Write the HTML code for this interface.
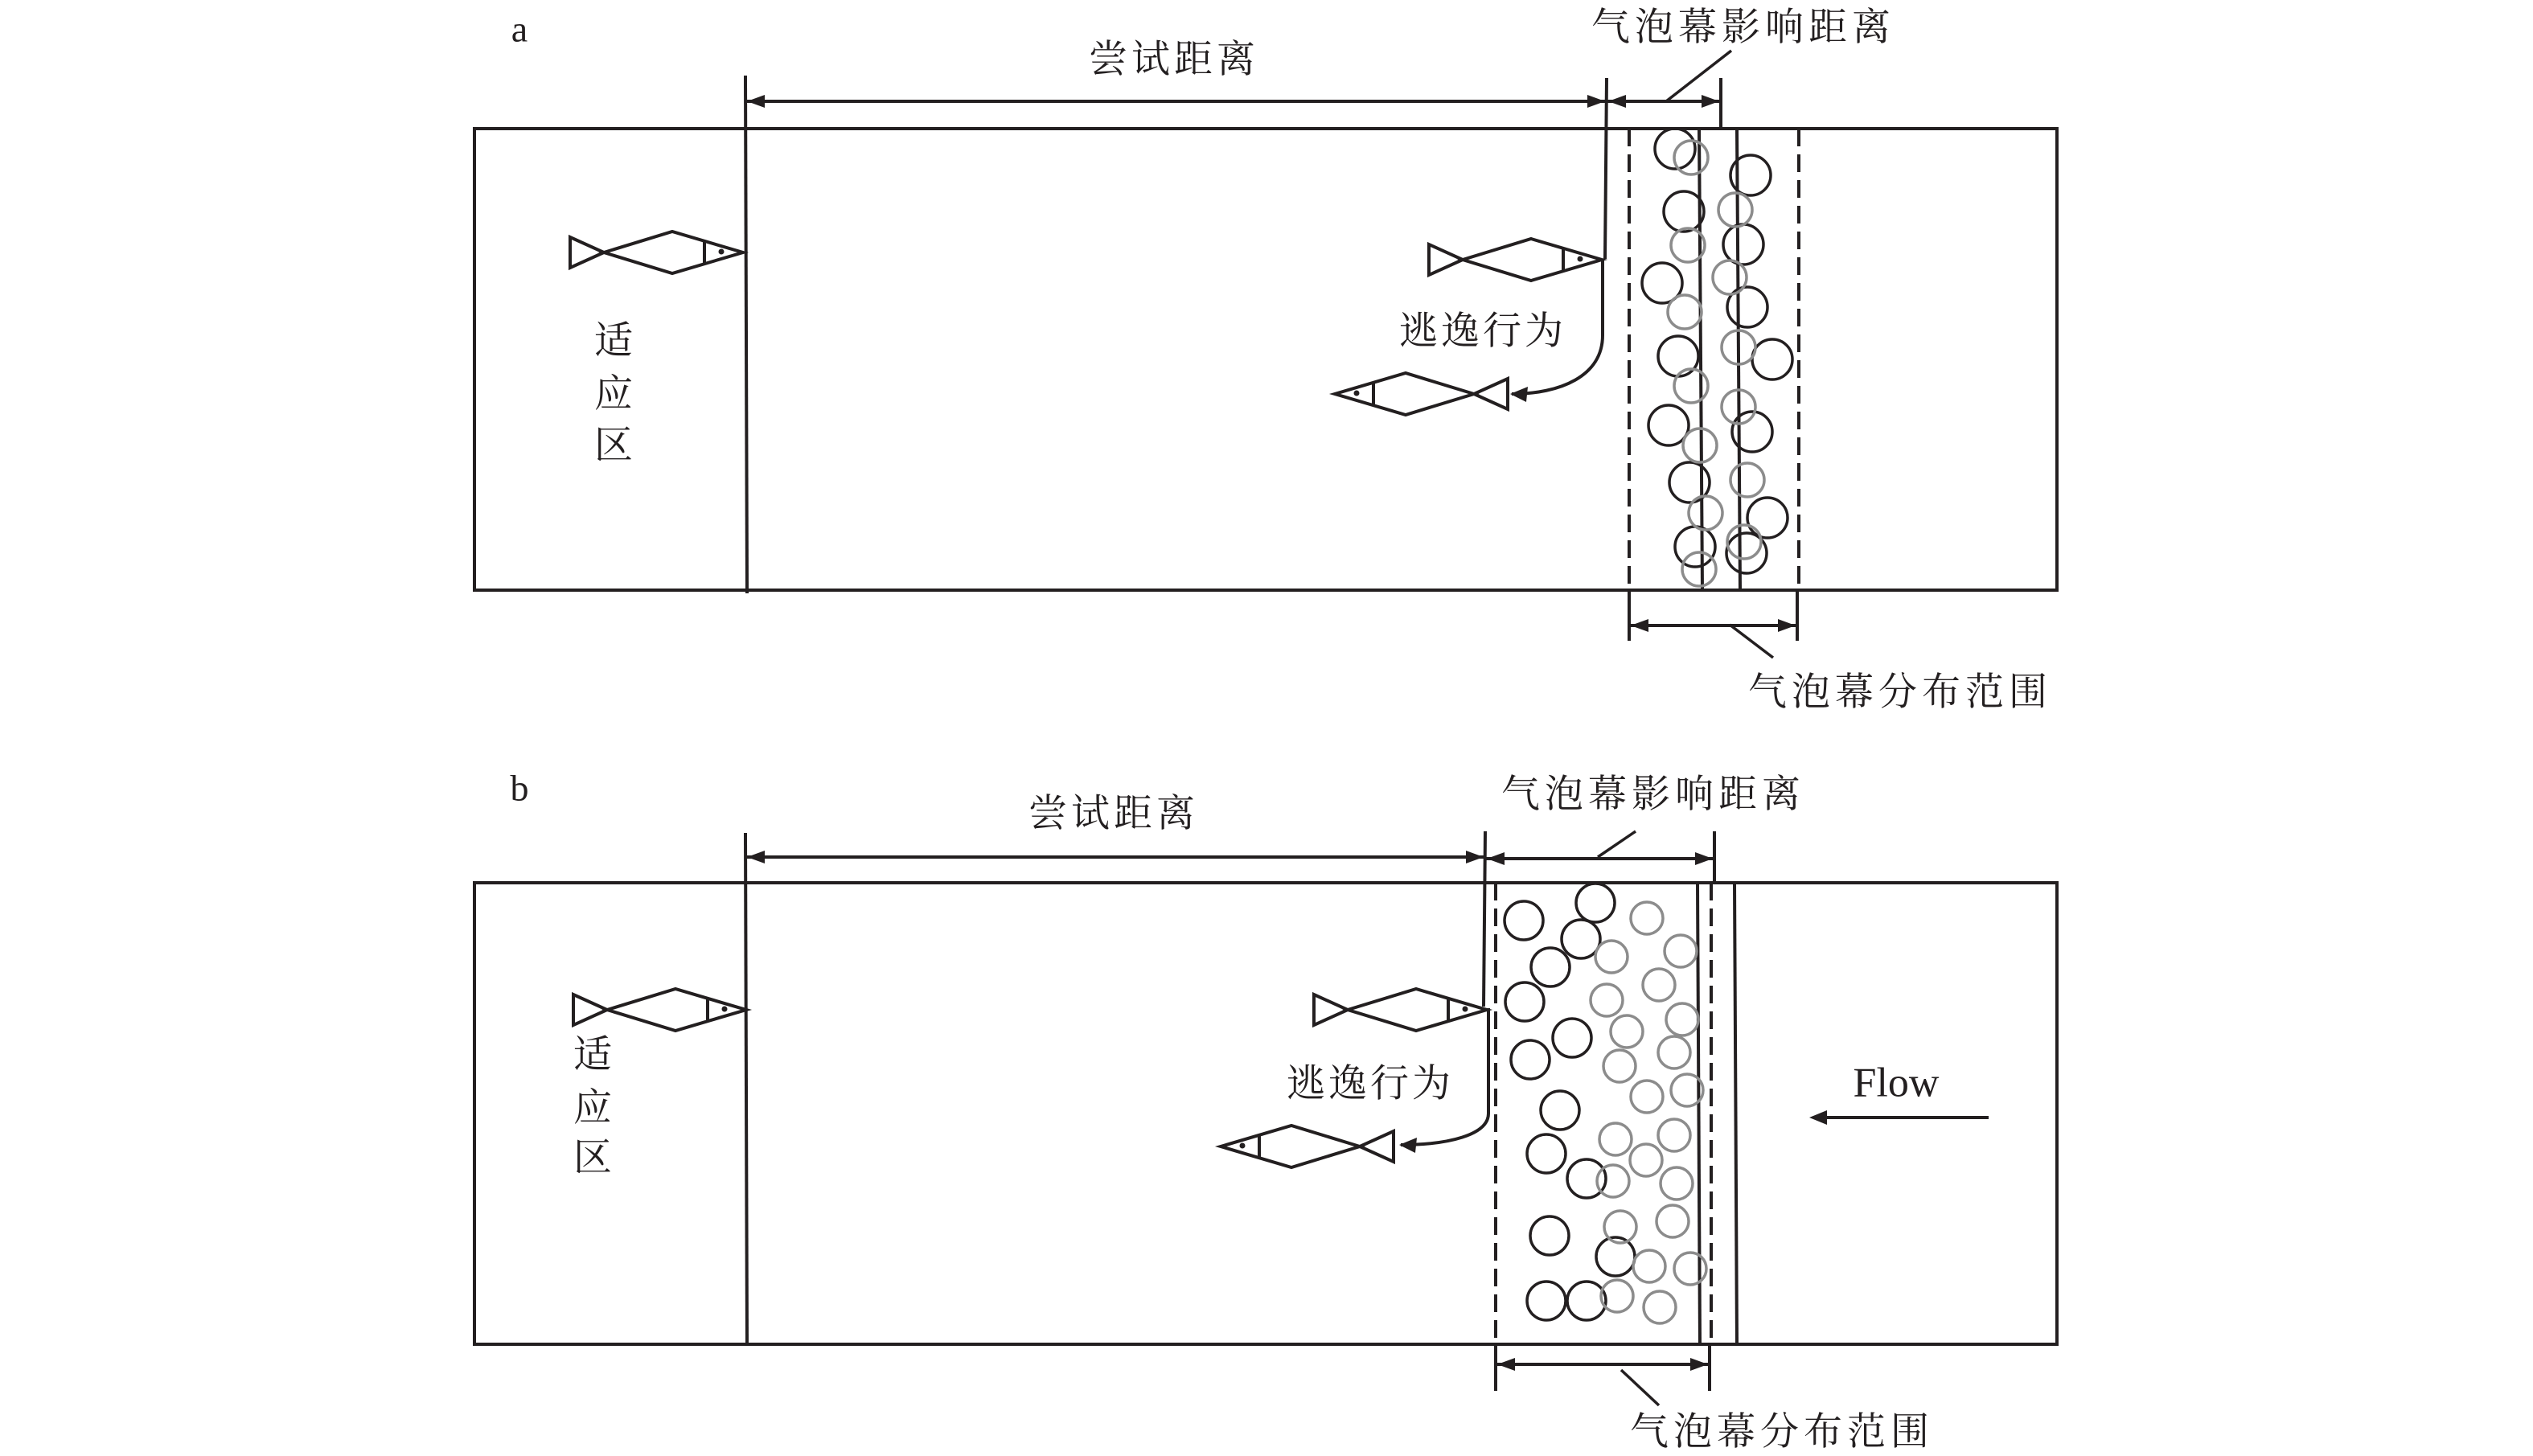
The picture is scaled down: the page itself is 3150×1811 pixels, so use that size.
<!DOCTYPE html>
<html><head><meta charset="utf-8"><style>
html,body{margin:0;padding:0;background:#fff;}
svg{display:block;}
text{font-family:"Liberation Serif","Noto Serif CJK SC","Noto Sans CJK SC",serif;fill:#231f20;}
</style></head><body>
<svg width="3150" height="1811" viewBox="0 0 3150 1811" xmlns="http://www.w3.org/2000/svg">
<defs>
<g id="fishR" fill="none" stroke="#231f20" stroke-width="4" stroke-linejoin="miter">
<path d="M0,-19 L0,19 L42,0 Z"/>
<path d="M42,0 L127,-26 L215,0 L127,26 Z"/>
<path d="M167,-15 L167,15"/>
<circle cx="188" cy="-1" r="3.5" fill="#231f20" stroke="none"/>
</g>
</defs>
<g stroke="#231f20" stroke-width="4" fill="none">
<!-- Panel a -->
<rect x="590" y="160" width="1968" height="574"/>
<line x1="927" y1="94" x2="929" y2="738"/>
<line x1="927" y1="126" x2="1998" y2="126"/>
<line x1="1998" y1="97" x2="1996" y2="322"/>
<line x1="1998" y1="126" x2="2140" y2="126"/>
<line x1="2140" y1="97" x2="2140" y2="160"/>
<line x1="2072" y1="126" x2="2153" y2="63" stroke-width="3.5"/>
<path d="M1993,324 L1993,417 C1993,468 1940,490 1880,490"/>
<line x1="2026" y1="160" x2="2026" y2="734" stroke-dasharray="22,10"/>
<line x1="2237" y1="160" x2="2237" y2="734" stroke-dasharray="22,10"/>
<line x1="2026" y1="734" x2="2026" y2="797"/>
<line x1="2235" y1="734" x2="2235" y2="797"/>
<line x1="2026" y1="778" x2="2235" y2="778"/>
<line x1="2151" y1="777" x2="2205" y2="818" stroke-width="3.5"/>
<line x1="2113" y1="160" x2="2117" y2="734"/>
<line x1="2160" y1="160" x2="2164" y2="734"/>
<!-- Panel b -->
<rect x="590" y="1098" width="1968" height="574"/>
<line x1="927" y1="1036" x2="929" y2="1674"/>
<line x1="927" y1="1066" x2="1847" y2="1066"/>
<line x1="1847" y1="1034" x2="1845" y2="1252"/>
<line x1="1847" y1="1068" x2="2132" y2="1068"/>
<line x1="2132" y1="1034" x2="2132" y2="1100"/>
<line x1="1987" y1="1066" x2="2034" y2="1034" stroke-width="3.5"/>
<path d="M1851,1254 L1851,1385 C1851,1412 1800,1424 1742,1424"/>
<line x1="1860" y1="1098" x2="1860" y2="1672" stroke-dasharray="22,10"/>
<line x1="2128" y1="1098" x2="2128" y2="1672" stroke-dasharray="22,10"/>
<line x1="1860" y1="1672" x2="1860" y2="1730"/>
<line x1="2126" y1="1672" x2="2126" y2="1730"/>
<line x1="1860" y1="1697" x2="2126" y2="1697"/>
<line x1="2016" y1="1704" x2="2063" y2="1748" stroke-width="3.5"/>
<line x1="2111" y1="1098" x2="2114" y2="1672"/>
<line x1="2157" y1="1098" x2="2160" y2="1672"/>
<line x1="2473" y1="1390" x2="2270" y2="1390"/>
</g>
<g fill="#231f20">
<polygon points="929,126 951,118 951,134"/>
<polygon points="1996,126 1974,118 1974,134"/>
<polygon points="2000,126 2022,118 2022,134"/>
<polygon points="2138,126 2116,118 2116,134"/>
<polygon points="2028,778 2050,770 2050,786"/>
<polygon points="2233,778 2211,770 2211,786"/>
<polygon points="1878,490 1900,481 1898,500"/>
<polygon points="929,1066 951,1058 951,1074"/>
<polygon points="1845,1066 1823,1058 1823,1074"/>
<polygon points="1849,1068 1871,1060 1871,1076"/>
<polygon points="2130,1068 2108,1060 2108,1076"/>
<polygon points="1862,1697 1884,1689 1884,1705"/>
<polygon points="2124,1697 2102,1689 2102,1705"/>
<polygon points="1740,1424 1762,1415 1760,1434"/>
<polygon points="2250,1390 2272,1381 2272,1399"/>
</g>
<use href="#fishR" transform="translate(709,314)"/>
<use href="#fishR" transform="translate(1777,323)"/>
<use href="#fishR" transform="translate(1875,490) scale(-1,1)"/>
<use href="#fishR" transform="translate(713,1256)"/>
<use href="#fishR" transform="translate(1634,1256)"/>
<use href="#fishR" transform="translate(1733,1426) scale(-1,1)"/>
<g fill="none" stroke-width="3.5">
<g stroke="#231f20">
<circle cx="2083" cy="185" r="25"/><circle cx="2094" cy="263" r="25"/><circle cx="2067" cy="352" r="25"/>
<circle cx="2087" cy="443" r="25"/><circle cx="2075" cy="529" r="25"/><circle cx="2101" cy="600" r="25"/>
<circle cx="2108" cy="680" r="25"/><circle cx="2177" cy="218" r="25"/><circle cx="2168" cy="304" r="25"/>
<circle cx="2173" cy="382" r="25"/><circle cx="2204" cy="447" r="25"/><circle cx="2179" cy="537" r="25"/>
<circle cx="2198" cy="644" r="25"/><circle cx="2172" cy="688" r="25"/>
</g>
<g stroke="#8c8c8c">
<circle cx="2103" cy="196" r="21"/><circle cx="2099" cy="305" r="21"/><circle cx="2095" cy="388" r="21"/>
<circle cx="2103" cy="480" r="21"/><circle cx="2114" cy="554" r="21"/><circle cx="2121" cy="638" r="21"/>
<circle cx="2113" cy="708" r="21"/><circle cx="2158" cy="261" r="21"/><circle cx="2151" cy="345" r="21"/>
<circle cx="2162" cy="432" r="21"/><circle cx="2162" cy="506" r="21"/><circle cx="2173" cy="597" r="21"/>
<circle cx="2169" cy="674" r="21"/>
</g>
<g stroke="#231f20">
<circle cx="1895" cy="1145" r="24"/><circle cx="1984" cy="1123" r="24"/><circle cx="1966" cy="1168" r="24"/>
<circle cx="1928" cy="1203" r="24"/><circle cx="1896" cy="1246" r="24"/><circle cx="1955" cy="1291" r="24"/>
<circle cx="1903" cy="1318" r="24"/><circle cx="1940" cy="1381" r="24"/><circle cx="1923" cy="1435" r="24"/>
<circle cx="1973" cy="1466" r="24"/><circle cx="1927" cy="1537" r="24"/><circle cx="2009" cy="1563" r="24"/>
<circle cx="1923" cy="1618" r="24"/><circle cx="1973" cy="1618" r="24"/>
</g>
<g stroke="#8c8c8c">
<circle cx="2048" cy="1142" r="20"/><circle cx="2004" cy="1190" r="20"/><circle cx="2090" cy="1183" r="20"/>
<circle cx="2063" cy="1225" r="20"/><circle cx="1998" cy="1244" r="20"/><circle cx="2092" cy="1268" r="20"/>
<circle cx="2023" cy="1283" r="20"/><circle cx="2082" cy="1309" r="20"/><circle cx="2014" cy="1326" r="20"/>
<circle cx="2048" cy="1364" r="20"/><circle cx="2098" cy="1356" r="20"/><circle cx="2009" cy="1417" r="20"/>
<circle cx="2082" cy="1412" r="20"/><circle cx="2047" cy="1443" r="20"/><circle cx="2006" cy="1469" r="20"/>
<circle cx="2085" cy="1472" r="20"/><circle cx="2015" cy="1526" r="20"/><circle cx="2080" cy="1519" r="20"/>
<circle cx="2051" cy="1575" r="20"/><circle cx="2102" cy="1578" r="20"/><circle cx="2011" cy="1612" r="20"/>
<circle cx="2064" cy="1626" r="20"/>
</g>
</g>
<g text-anchor="middle" dominant-baseline="central" font-size="48">
<text x="646" y="36" font-size="46">a</text>
<text x="646" y="980" font-size="46">b</text>
<text x="1460" y="74" letter-spacing="5">尝试距离</text>
<text x="1385" y="1012" letter-spacing="5">尝试距离</text>
<text x="2168" y="34" letter-spacing="6">气泡幕影响距离</text>
<text x="2056" y="988" letter-spacing="6">气泡幕影响距离</text>
<text x="2363" y="861" letter-spacing="6">气泡幕分布范围</text>
<text x="2216" y="1781" letter-spacing="6">气泡幕分布范围</text>
<text x="1844" y="412" letter-spacing="4">逃逸行为</text>
<text x="1704" y="1348" letter-spacing="4">逃逸行为</text>
<text x="763" y="424">适</text><text x="763" y="490">应</text><text x="763" y="554">区</text>
<text x="737" y="1312">适</text><text x="737" y="1378">应</text><text x="737" y="1440">区</text>
<text x="2358" y="1347" font-size="52">Flow</text>
</g>
</svg>
</body></html>
